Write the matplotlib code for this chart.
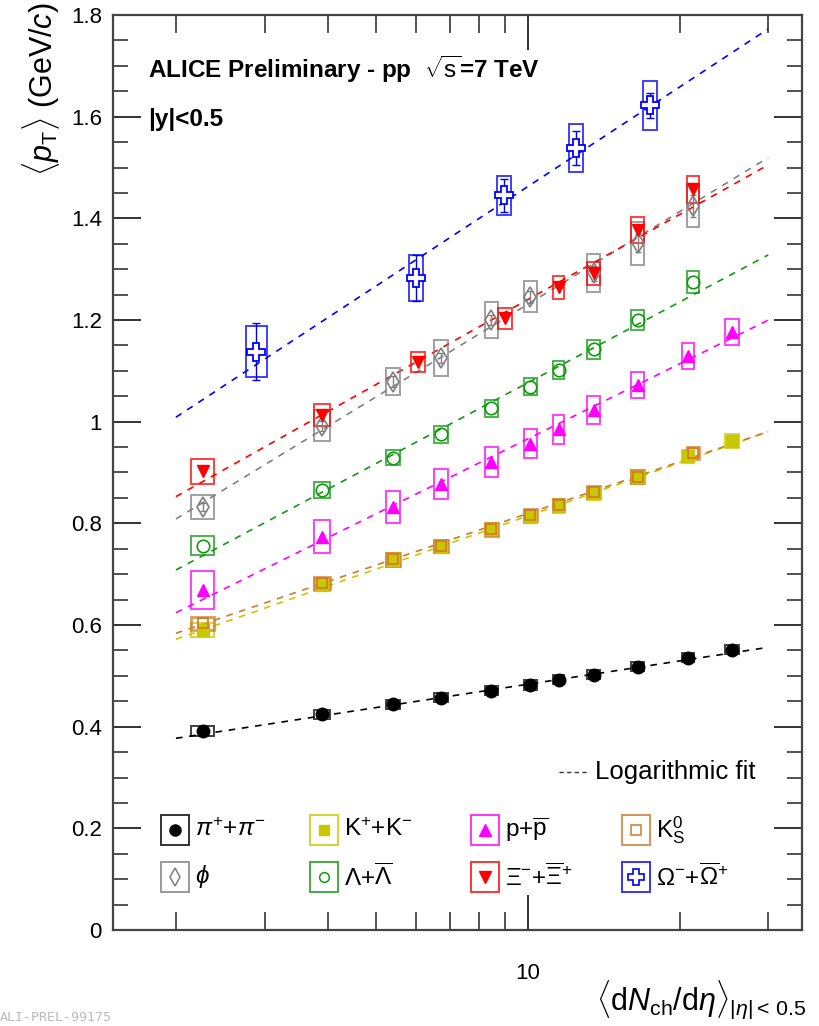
import numpy as np
import matplotlib
matplotlib.use("Agg")
import matplotlib.pyplot as plt
from matplotlib.patches import Rectangle
from matplotlib.ticker import FixedLocator, NullFormatter, FuncFormatter

plt.rcParams['font.family'] = ['Liberation Sans', 'DejaVu Sans']
plt.rcParams['mathtext.fontset'] = 'custom'
plt.rcParams['mathtext.rm'] = 'Liberation Sans'
plt.rcParams['mathtext.it'] = 'Liberation Sans:italic'
plt.rcParams['mathtext.bf'] = 'Liberation Sans:bold'

# ---------------- data ----------------
x_10 = [2.26, 3.90, 5.40, 6.72, 8.45, 10.1, 11.5, 13.5, 16.5, 21.3]
xe_10 = [0.12, 0.14, 0.17, 0.21, 0.25, 0.30, 0.30, 0.40, 0.50, 0.60]
x_11 = [2.26, 3.90, 5.40, 6.72, 8.45, 10.1, 11.5, 13.5, 16.5, 20.8, 25.4]
xe_11 = [0.12, 0.14, 0.17, 0.21, 0.25, 0.30, 0.30, 0.40, 0.50, 0.60, 0.80]

pi_y = [0.392, 0.424, 0.444, 0.457, 0.471, 0.482, 0.492, 0.502, 0.518, 0.536, 0.551]
pi_sys = [0.010, 0.009, 0.009, 0.009, 0.009, 0.009, 0.009, 0.009, 0.009, 0.009, 0.009]

k_y = [0.590, 0.679, 0.728, 0.754, 0.788, 0.813, 0.834, 0.859, 0.891, 0.932, 0.962]
k_sys = [0.013] * 11

p_y = [0.669, 0.774, 0.832, 0.877, 0.921, 0.957, 0.985, 1.023, 1.072, 1.129, 1.176]
p_sys = [0.038, 0.033, 0.031, 0.030, 0.029, 0.028, 0.028, 0.027, 0.025, 0.025, 0.025]

k0s_y = [0.603, 0.683, 0.729, 0.756, 0.788, 0.816, 0.836, 0.862, 0.892, 0.938]
k0s_sys = [0.012] * 10

phi_x = [2.26, 3.90, 5.40, 6.72, 8.45, 10.1, 13.5, 16.5, 21.3]
phi_xe = [0.12, 0.14, 0.17, 0.21, 0.25, 0.30, 0.40, 0.50, 0.60]
phi_y = [0.832, 0.992, 1.079, 1.125, 1.200, 1.246, 1.292, 1.351, 1.424]
phi_sys = [0.023, 0.031, 0.027, 0.035, 0.035, 0.031, 0.037, 0.042, 0.042]
phi_stat = [0.008, 0.010, 0.010, 0.010, 0.010, 0.012, 0.015, 0.018, 0.022]

lam_y = [0.756, 0.866, 0.929, 0.975, 1.026, 1.069, 1.102, 1.142, 1.200, 1.275]
lam_sys = [0.019, 0.016, 0.015, 0.017, 0.017, 0.017, 0.018, 0.018, 0.019, 0.022]

xi_x = [2.26, 3.90, 6.05, 9.0, 11.5, 13.5, 16.5, 21.3]
xi_xe = [0.12, 0.14, 0.20, 0.28, 0.30, 0.40, 0.50, 0.60]
xi_y = [0.902, 1.013, 1.118, 1.203, 1.264, 1.292, 1.377, 1.457]
xi_sys = [0.025, 0.022, 0.020, 0.020, 0.022, 0.023, 0.025, 0.026]

om_x = [2.89, 6.0, 8.97, 12.47, 17.47]
om_xe = [0.14, 0.20, 0.29, 0.39, 0.54]
om_y = [1.138, 1.283, 1.445, 1.538, 1.622]
om_stat = [0.056, 0.045, 0.032, 0.034, 0.025]
om_sys = [0.050, 0.045, 0.038, 0.047, 0.048]

# logarithmic fits  <pT> = a + b*ln(dN/deta), drawn for dN/deta in [2, 30]
fit_a = {'pi': 0.3313, 'k': 0.4674, 'p': 0.4768, 'k0s': 0.4822,
         'phi': 0.6267, 'lam': 0.5496, 'xi': 0.6855, 'om': 0.8132}
fit_b = {'pi': 0.0661, 'k': 0.1508, 'p': 0.2126, 'k0s': 0.1465,
         'phi': 0.2625, 'lam': 0.2289, 'xi': 0.2410, 'om': 0.2821}
fit_range = [2.0, 30.0]

# ---------------- style ----------------
col = {'pi': '#000000', 'k': '#c8c800', 'p': '#ff00ff', 'k0s': '#d2782a',
       'phi': '#808080', 'lam': '#119911', 'xi': '#ff0000', 'om': '#0000ff'}

fig = plt.figure(figsize=(8.19, 10.26), dpi=100)
ax = fig.add_axes([113/819, 1-930/1026, (802-113)/819, (930-15)/1026])

ax.set_xscale('log')
ax.set_xlim(1.5, 35)
ax.set_ylim(0, 1.8)

def boxes(xs, xes, ys, ss, c, fill=False, lw=1.4, alpha=0.75):
    for x, xe, y, s in zip(xs, xes, ys, ss):
        ax.add_patch(Rectangle((x - xe, y - s), 2*xe, 2*s, fill=fill,
                               facecolor=(c if fill else 'none'), edgecolor=c,
                               lw=lw, alpha=alpha, zorder=2))

# fit lines
xf = np.geomspace(fit_range[0], fit_range[1], 200)
for key in ['pi', 'k', 'p', 'k0s', 'phi', 'lam', 'xi', 'om']:
    ax.plot(xf, fit_a[key] + fit_b[key]*np.log(xf), ls=(0, (4, 4)),
            color=col[key], lw=1.2, zorder=1)

# systematic boxes
boxes(x_11, xe_11, pi_y, pi_sys, col['pi'])
boxes(x_11, xe_11, k_y, k_sys, col['k'])
boxes(x_11, xe_11, p_y, p_sys, col['p'])
boxes(x_10, xe_10, k0s_y, k0s_sys, col['k0s'], lw=2.0)
boxes(phi_x, phi_xe, phi_y, phi_sys, col['phi'])
boxes(x_10, xe_10, lam_y, lam_sys, col['lam'])
boxes(xi_x, xi_xe, xi_y, xi_sys, col['xi'])
boxes(om_x, om_xe, om_y, om_sys, col['om'])

# stat error bars
ax.errorbar(om_x, om_y, yerr=om_stat, fmt='none', ecolor=col['om'],
            elinewidth=1.0, capsize=3, capthick=1.0, zorder=3)
ax.errorbar(phi_x, phi_y, yerr=phi_stat, fmt='none', ecolor=col['phi'],
            elinewidth=1.0, capsize=2.5, capthick=1.0, zorder=3)

# markers
ax.plot(x_11, pi_y, 'o', color=col['pi'], ms=9, zorder=4)
ax.plot(x_11, k_y, 's', color=col['k'], ms=8, zorder=4)
ax.plot(x_11, p_y, '^', color=col['p'], ms=9, zorder=4)
ax.plot(x_10, k0s_y, 's', mfc='none', mec=col['k0s'], mew=1.2, ms=7, zorder=4)
ax.plot(phi_x, phi_y, 'd', mfc='none', mec=col['phi'], mew=1.2, ms=10, zorder=4)
ax.plot(x_10, lam_y, 'o', mfc='none', mec=col['lam'], mew=1.2, ms=9, zorder=4)
ax.plot(xi_x, xi_y, 'v', color=col['xi'], ms=9, zorder=4)
ax.plot(om_x, om_y, 'P', mfc='white', mec=col['om'], mew=1.3, ms=13, zorder=4)

# ---------------- axes ----------------
ax.xaxis.set_major_locator(FixedLocator([10]))
ax.xaxis.set_minor_locator(FixedLocator([2, 3, 4, 5, 6, 7, 8, 9, 20, 30]))
ax.xaxis.set_major_formatter(FuncFormatter(lambda v, p: '%g' % v))
ax.xaxis.set_minor_formatter(NullFormatter())
ax.yaxis.set_major_locator(FixedLocator(np.arange(0, 1.81, 0.2)))
ax.yaxis.set_minor_locator(FixedLocator(np.arange(0, 1.801, 0.05)))
ax.yaxis.set_major_formatter(FuncFormatter(lambda v, p: '%g' % round(v, 2)))
ax.tick_params(which='both', direction='in', top=True, right=True,
               labelsize=16, color='#222222')
ax.tick_params(axis='y', which='major', length=20, width=1.3, pad=8)
ax.tick_params(axis='y', which='minor', length=11, width=1.1)
ax.tick_params(axis='x', which='major', length=25, width=1.3, pad=24)
ax.tick_params(axis='x', which='minor', length=13, width=1.1)
for s in ax.spines.values():
    s.set_linewidth(1.6)
    s.set_color('#444444')

fig.text(0.050, 1-3/1026, r'$\langle p_{\rm T}\rangle$ (GeV/$c$)', rotation=90,
         ha='center', va='top', fontsize=22)
fig.text(806/819, 1-1010/1026,
         r'$\langle {\rm d}N_{\rm ch}/{\rm d}\eta\rangle_{|\eta|<\,0.5}$',
         ha='right', va='baseline', fontsize=22)

ax.text(148/819, 1-78/1026, r'ALICE Preliminary - pp  $\sqrt{\rm s}$=7 TeV',
        transform=fig.transFigure, fontsize=17.5, fontweight='bold')
ax.text(148/819, 1-126/1026, '|y|<0.5', transform=fig.transFigure,
        fontsize=17.5, fontweight='bold')

# "Logarithmic fit" entry
ax.plot([559/819, 588/819], [1-772/1026]*2, transform=fig.transFigure,
        ls=(0, (3, 2.5)), color='#333333', lw=1.0, clip_on=False)
fig.text(595/819, 1-772/1026, 'Logarithmic fit', ha='left', va='center',
         fontsize=18.5)

# legend
leg_keys = [['pi', 'k', 'p', 'k0s'], ['phi', 'lam', 'xi', 'om']]
leg_labels = [[r'$\pi^{+}$+$\pi^{-}$', r'K$^{+}$+K$^{-}$', r'p+$\overline{\rm p}$', r'K$^{0}_{\rm S}$'],
              [r'$\phi$', r'$\Lambda$+$\overline{\Lambda}$', r'$\Xi^{-}$+$\overline{\Xi}^{+}$',
               r'$\Omega^{-}$+$\overline{\Omega}^{+}$']]
leg_mk = {'pi': dict(marker='o', color=col['pi'], ms=8),
          'k': dict(marker='s', color=col['k'], ms=7),
          'p': dict(marker='^', color=col['p'], ms=8),
          'k0s': dict(marker='s', mfc='none', mec=col['k0s'], ms=7, mew=1.1),
          'phi': dict(marker='d', mfc='none', mec=col['phi'], ms=9, mew=1.1),
          'lam': dict(marker='o', mfc='none', mec=col['lam'], ms=7, mew=1.1),
          'xi': dict(marker='v', color=col['xi'], ms=8),
          'om': dict(marker='P', mfc='white', mec=col['om'], ms=11, mew=1.2)}
col_x = [175, 324, 485, 636]
row_y = [830, 877]
for r in range(2):
    for c in range(4):
        key = leg_keys[r][c]
        cx, cy = col_x[c], row_y[r]
        fig.patches.append(Rectangle(((cx-14)/819, 1-(cy+15)/1026), 28/819, 30/1026,
                                     fill=False, edgecolor=col[key], lw=1.4,
                                     alpha=0.8, transform=fig.transFigure))
        fig.add_artist(plt.Line2D([cx/819], [1-cy/1026], ls='none',
                                  transform=fig.transFigure, **leg_mk[key]))
        fig.text((cx+20)/819, 1-cy/1026, leg_labels[r][c], ha='left',
                 va='center', fontsize=17.5)

fig.text(0.0, 0.002, 'ALI-PREL-99175', color='#bbbbbb', fontsize=9.5,
         family='DejaVu Sans Mono', ha='left', va='bottom')

fig.savefig('out.png', dpi=100)
